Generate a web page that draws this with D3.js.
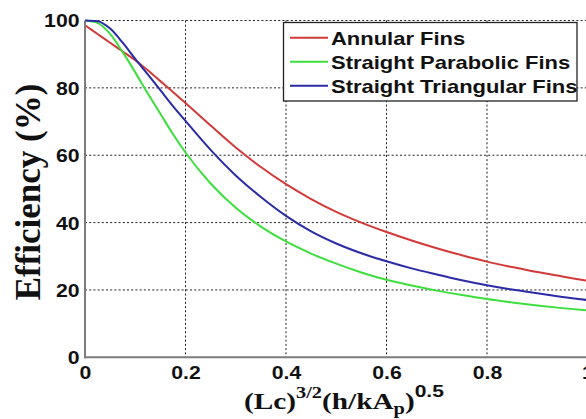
<!DOCTYPE html>
<html>
<head>
<meta charset="utf-8">
<script src="https://cdn.jsdelivr.net/npm/d3@7"></script>
<style>
  html, body { margin: 0; padding: 0; background: #fff; }
  svg { display: block; }
</style>
</head>
<body>
<svg id="chart" width="586" height="419"></svg>
<script>
// Fin efficiency against the fin parameter (Lc)^{3/2}(h/kA_p)^{0.5}
const xValues = [0, 0.025, 0.05, 0.075, 0.1, 0.125, 0.15, 0.175, 0.2, 0.25, 0.3, 0.35, 0.4,
                 0.45, 0.5, 0.55, 0.6, 0.65, 0.7, 0.75, 0.8, 0.85, 0.9, 0.95, 1.0];
const annularFins = [98.6, 96.0, 93.4, 90.8, 88.2, 85.2, 82.0, 78.8, 75.5, 68.8, 62.3, 56.5, 51.4,
                     47.0, 43.2, 40.0, 37.2, 34.7, 32.4, 30.3, 28.4, 26.8, 25.3, 24.0, 22.7];
const parabolicFins = [100, 99.3, 96.0, 90.6, 84.6, 78.3, 72.3, 66.3, 60.8, 51.6, 44.4, 38.8, 34.4,
                       30.8, 27.8, 25.2, 23.0, 21.3, 19.8, 18.5, 17.3, 16.3, 15.4, 14.6, 13.9];
const triangularFins = [100, 99.8, 97.6, 93.4, 88.6, 84.0, 79.3, 74.6, 70.2, 61.6, 54.0, 47.6, 42.0,
                        37.4, 33.8, 30.9, 28.5, 26.4, 24.6, 22.9, 21.4, 20.1, 19.0, 17.9, 17.0];
const seriesNames = ["Annular Fins", "Straight Parabolic Fins", "Straight Triangular Fins"];
const seriesColors = ["#d23a3a", "#3ede3e", "#2b2ba6"];
const xTicks = [0, 0.2, 0.4, 0.6, 0.8, 1];
const yTicks = [0, 20, 40, 60, 80, 100];

const svg = d3.select("#chart");
const plotLeft = 85, plotRight = 587.5, plotTop = 20.5, plotBottom = 357.3;
const x = d3.scaleLinear().domain([0, 1]).range([plotLeft, plotRight]);
const y = d3.scaleLinear().domain([0, 100]).range([plotBottom, plotTop]);
const sansStretch = 1.18;

// dotted grid
const grid = svg.append("g").attr("stroke", "#222").attr("stroke-width", 1)
  .attr("stroke-dasharray", "2,2.2");
grid.selectAll("line.h").data(yTicks.filter(d => d > 0)).join("line").attr("class", "h")
  .attr("x1", plotLeft).attr("x2", plotRight).attr("y1", d => y(d)).attr("y2", d => y(d));
grid.selectAll("line.v").data(xTicks.filter(d => d > 0)).join("line").attr("class", "v")
  .attr("y1", plotTop).attr("y2", plotBottom).attr("x1", d => x(d)).attr("x2", d => x(d));

// curves
const series = [annularFins, parabolicFins, triangularFins];
const line = d3.line()
  .x((d, i) => x(xValues[i]))
  .y(d => y(d))
  .curve(d3.curveMonotoneX);
svg.append("g").selectAll("path").data(series).join("path")
  .attr("fill", "none")
  .attr("stroke", (d, i) => seriesColors[i])
  .attr("stroke-width", 2)
  .attr("d", line);

// axes
const axisColor = "#7d7d7d";
svg.append("line").attr("x1", plotLeft).attr("x2", plotLeft).attr("y1", plotTop).attr("y2", plotBottom + 1)
  .attr("stroke", axisColor).attr("stroke-width", 2);
svg.append("line").attr("x1", plotLeft - 1).attr("x2", plotRight).attr("y1", plotBottom).attr("y2", plotBottom)
  .attr("stroke", axisColor).attr("stroke-width", 2);

const yAxis = svg.append("g").attr("transform", `translate(${plotLeft},0)`)
  .call(d3.axisLeft(y).tickValues(yTicks).tickFormat(d3.format("d")).tickSize(0).tickPadding(0));
const xAxis = svg.append("g").attr("transform", `translate(0,${plotBottom})`)
  .call(d3.axisBottom(x).tickValues(xTicks)
    .tickFormat(d => (d === 0 || d === 1) ? String(d) : d3.format(".1f")(d))
    .tickSize(0).tickPadding(0));
[yAxis, xAxis].forEach(a => a.select(".domain").remove());
yAxis.selectAll("text")
  .attr("x", 0).attr("dy", "0.36em")
  .attr("transform", `translate(-5.5,0) scale(${sansStretch},1)`);
xAxis.selectAll("text")
  .attr("y", 0).attr("dy", "1.2em")
  .attr("transform", `scale(${sansStretch},1)`);
svg.selectAll(".tick text")
  .attr("font-family", "'Liberation Sans', Arial, sans-serif")
  .attr("font-weight", "bold")
  .attr("font-size", 18)
  .attr("fill", "#111");

// y-axis title
svg.append("text")
  .attr("transform", "translate(40,192) rotate(-90)")
  .attr("text-anchor", "middle")
  .attr("font-family", "'Liberation Serif', 'Times New Roman', serif")
  .attr("font-weight", "bold")
  .attr("font-size", 35)
  .attr("fill", "#111")
  .text("Efficiency (%)");

// x-axis title with super/subscripts
const xTitleG = svg.append("g");
const xt = xTitleG.append("text")
  .attr("font-family", "'Liberation Serif', 'Times New Roman', serif")
  .attr("font-weight", "bold")
  .attr("font-size", 23)
  .attr("fill", "#111");
xt.append("tspan").text("(Lc)");
xt.append("tspan").attr("font-size", 16).attr("dy", -11).text("3/2");
xt.append("tspan").attr("dy", 11).text("(h/kA");
xt.append("tspan").attr("font-size", 16).attr("dy", 5).text("p");
xt.append("tspan").attr("dy", -5).text(")");
xt.append("tspan").attr("font-size", 16.5).attr("dy", -12)
  .attr("font-family", "'Liberation Sans', Arial, sans-serif").text("0.5");
const xtw = xt.node().getBBox().width;
const xtTarget = 200;
xTitleG.attr("transform", `translate(${344 - xtTarget / 2},409) scale(${xtTarget / xtw},1)`);

// legend
const lg = svg.append("g");
lg.append("rect").attr("x", 283.5).attr("y", 22.5).attr("width", 293.5).attr("height", 78.5)
  .attr("fill", "#fff").attr("stroke", "#222").attr("stroke-width", 1.3);
const rows = lg.selectAll("g.row").data(seriesNames).join("g").attr("class", "row")
  .attr("transform", (d, i) => `translate(0,${37.7 + i * 24})`);
rows.append("line").attr("x1", 290).attr("x2", 328).attr("y1", 0).attr("y2", 0)
  .attr("stroke", (d, i) => seriesColors[i]).attr("stroke-width", 2);
rows.append("text")
  .attr("transform", `translate(331,6.8) scale(1.175,1)`)
  .attr("font-family", "'Liberation Sans', Arial, sans-serif")
  .attr("font-weight", "bold")
  .attr("font-size", 18.7)
  .attr("fill", "#111")
  .text(d => d);
</script>
</body>
</html>
